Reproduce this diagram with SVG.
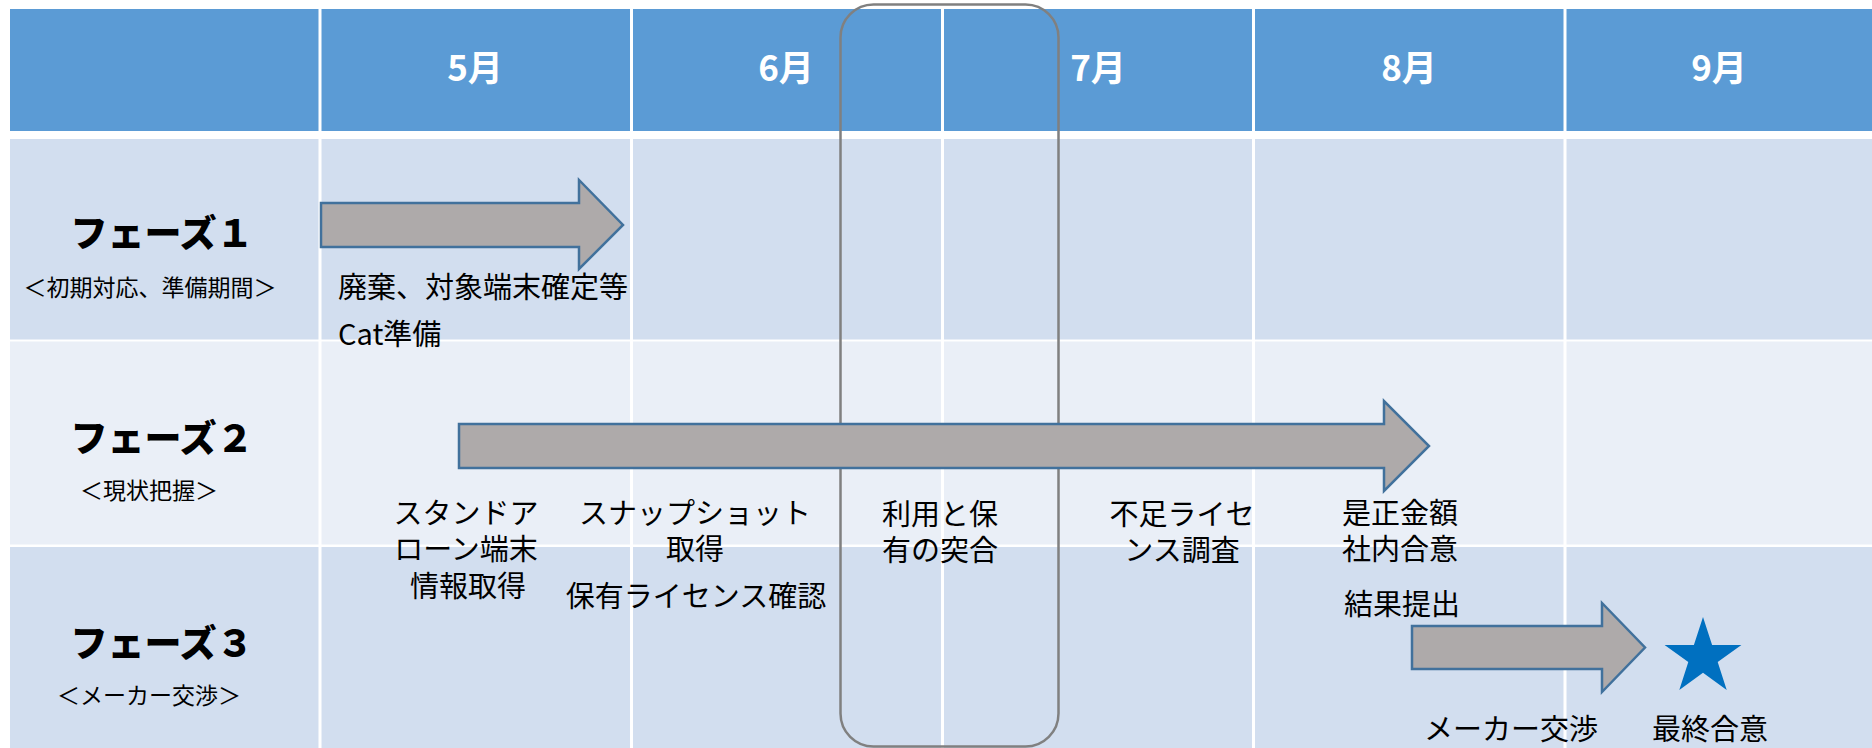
<svg xmlns="http://www.w3.org/2000/svg" width="1872" height="748" viewBox="0 0 1872 748">
<style>
  text { font-family: "Noto Sans CJK JP", "Noto Sans", sans-serif; fill: #000; }
  .month { font-size: 35px; font-weight: bold; fill: #FFFFFF; text-anchor: middle; }
  .phase { font-size: 37px; font-weight: 900; text-anchor: middle; }
  .sub { font-size: 23px; text-anchor: middle; }
  .body { font-size: 29px; text-anchor: middle; }
  .left { text-anchor: start; }
  .arrow { fill: #AEAAAA; stroke: #41719C; stroke-width: 2.5; stroke-linejoin: miter; }
  .grid { stroke: #FFFFFF; stroke-width: 3; }
</style>
<rect x="0" y="0" width="1872" height="748" fill="#FFFFFF"/>
<g id="table">
  <rect x="10" y="9" width="1862" height="122" fill="#5B9BD5"/>
  <rect x="10" y="139" width="1862" height="200.5" fill="#D2DEEF"/>
  <rect x="10" y="341.5" width="1862" height="203" fill="#EAEFF7"/>
  <rect x="10" y="547" width="1862" height="201" fill="#D2DEEF"/>
  <line class="grid" x1="320" y1="9" x2="320" y2="748"/>
  <line class="grid" x1="631.5" y1="9" x2="631.5" y2="748"/>
  <line class="grid" x1="942.5" y1="9" x2="942.5" y2="748"/>
  <line class="grid" x1="1253.5" y1="9" x2="1253.5" y2="748"/>
  <line class="grid" x1="1565" y1="9" x2="1565" y2="748"/>
</g>
<g id="months">
  <text class="month" x="475" y="81">5月</text>
  <text class="month" x="786" y="81">6月</text>
  <text class="month" x="1098" y="81">7月</text>
  <text class="month" x="1409" y="81">8月</text>
  <text class="month" x="1719" y="81">9月</text>
</g>
<g id="phase1">
  <text class="phase" x="162" y="247">フェーズ１</text>
  <text class="sub" x="150" y="296">＜初期対応、準備期間＞</text>
</g>
<g id="phase2">
  <text class="phase" x="162" y="452">フェーズ２</text>
  <text class="sub" x="149" y="499">＜現状把握＞</text>
</g>
<g id="phase3">
  <text class="phase" x="162" y="657">フェーズ３</text>
  <text class="sub" x="149" y="704">＜メーカー交渉＞</text>
</g>
<g id="focus-box">
  <rect x="840.5" y="4.5" width="218" height="742" rx="33" ry="33" fill="none" stroke="#808080" stroke-width="2.5"/>
</g>
<g id="connectors">
  <polygon id="arrow1" class="arrow" points="321,203 579,203 579,180 623,225 579,269 579,247 321,247"/>
  <polygon id="arrow2" class="arrow" points="459,424 1384,424 1384,401 1429,446 1384,491 1384,468 459,468"/>
  <polygon id="arrow3" class="arrow" points="1412,626 1602,626 1602,603 1645,647.5 1602,692 1602,669 1412,669"/>
</g>
<g id="milestone">
  <polygon fill="#0070C0" points="1703,617 1712.1,644.9 1741.4,644.9 1717.7,662.1 1726.7,690 1703,672.8 1679.3,690 1688.3,662.1 1664.6,644.9 1693.9,644.9"/>
</g>
<g id="task1">
  <text class="body left" x="338" y="298">廃棄、対象端末確定等<tspan x="338" y="345">Cat準備</tspan></text>
</g>
<g id="task2">
  <text class="body" x="466" y="524">スタンドア<tspan x="466" y="560">ローン端末</tspan><tspan x="468" y="597">情報取得</tspan></text>
</g>
<g id="task3">
  <text class="body" x="695" y="524">スナップショット<tspan x="695" y="560">取得</tspan><tspan x="696" y="607">保有ライセンス確認</tspan></text>
</g>
<g id="task4">
  <text class="body" x="940" y="525">利用と保<tspan x="940" y="561">有の突合</tspan></text>
</g>
<g id="task5">
  <text class="body" x="1182" y="525">不足ライセ<tspan x="1182" y="561">ンス調査</tspan></text>
</g>
<g id="task6">
  <text class="body" x="1400" y="524">是正金額<tspan x="1400" y="560">社内合意</tspan><tspan x="1402" y="615">結果提出</tspan></text>
</g>
<g id="task7">
  <text class="body" x="1511" y="740">メーカー交渉</text>
  <text class="body" x="1710" y="740">最終合意</text>
</g>
</svg>
